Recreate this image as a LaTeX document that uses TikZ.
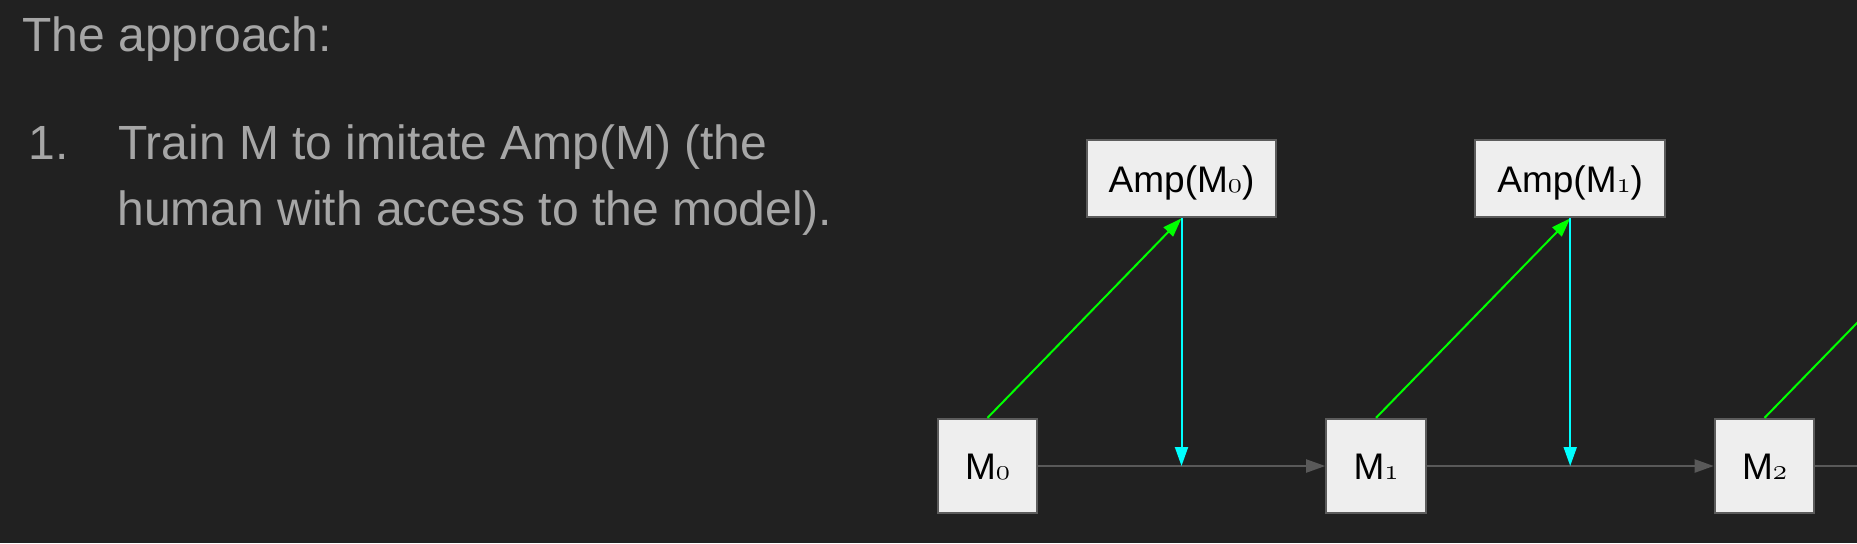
\documentclass[tikz,border=0pt]{standalone}
\usepackage{fontspec}
\setmainfont{Liberation Sans}
\usetikzlibrary{arrows.meta}
\definecolor{bg}{HTML}{212121}
\definecolor{txt}{HTML}{A6A6A6}
\definecolor{boxfill}{HTML}{EEEEEE}
\definecolor{boxdraw}{HTML}{5C5C5C}
\definecolor{edgegray}{HTML}{595959}
\definecolor{limegreen}{HTML}{00FF00}
\definecolor{aquacyan}{HTML}{00FFFF}
\newcommand{\subdig}[1]{{\usefont{OML}{cmm}{m}{it}\fontsize{14pt}{14pt}\selectfont #1}}
\begin{document}
\begin{tikzpicture}[x=0.5pt,y=-0.5pt,
  slide/.style={text=txt, font=\fontsize{24pt}{28pt}\selectfont, inner sep=0pt, anchor=base west},
  mbox/.style={draw=boxdraw, fill=boxfill, line width=1pt, minimum width=49.8pt, minimum height=47.15pt, inner sep=0pt, font=\fontsize{18.5pt}{22pt}\selectfont, text height=13.25pt, text depth=0pt},
  ampbox/.style={mbox, minimum width=94.8pt, minimum height=38.5pt},
  tip/.style={-{Triangle[length=9.5pt,width=6.5pt]}},
  flowline/.style={draw=edgegray, line width=1pt},
  flow/.style={flowline, tip},
  upline/.style={draw=limegreen, line width=1pt},
  up/.style={upline, tip},
  down/.style={draw=aquacyan, line width=1pt, tip}
]
\fill[bg] (0,0) rectangle (1857,543);
\useasboundingbox (0,0) rectangle (1857,543);

\node[slide] (title) at (22,51) {The approach:};
\node[slide] (num) at (28,159.3) {1.};
\node[slide] (l1) at (118,159.3) {Train M to imitate Amp(M) (the};
\node[slide] (l2) at (117,225) {human with access to the model).};

\node[mbox] (m0) at (987.5,466) {M\subdig{0}};
\node[mbox] (m1) at (1376,466) {M\subdig{1}};
\node[mbox] (m2) at (1764.5,466) {M\subdig{2}};
\node[ampbox] (a0) at (1181.5,178.8) {Amp(M\subdig{0})};
\node[ampbox] (a1) at (1570.2,178.8) {Amp(M\subdig{1})};

\coordinate (j0) at (a0.south |- m0.east);
\coordinate (j1) at (a1.south |- m1.east);
\coordinate (a2s) at (1959,218.3);
\coordinate (rend) at (1900,466);

\begin{scope}
\clip (0,0) rectangle (1857,543);
\draw[flow] (m0.east) -- (m1.west);
\draw[flow] (m1.east) -- (m2.west);
\draw[flowline] (m2.east) -- (rend);
\draw[up] (m0.north) -- (a0.south);
\draw[up] (m1.north) -- (a1.south);
\draw[upline] (m2.north) -- (a2s);
\draw[down] (a0.south) -- (j0);
\draw[down] (a1.south) -- (j1);
\end{scope}
\end{tikzpicture}
\end{document}
